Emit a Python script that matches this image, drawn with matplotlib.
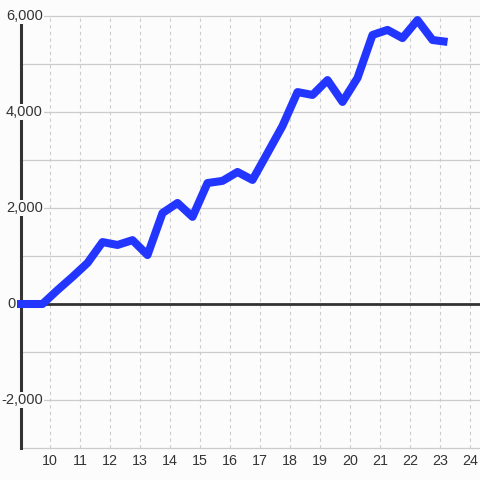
import matplotlib
matplotlib.use("Agg")
import matplotlib.pyplot as plt
import matplotlib.transforms as mtransforms

# ---- data ----
x_values = [8.9, 9.75, 10.25, 10.75, 11.25, 11.75, 12.25, 12.75, 13.25, 13.75,
            14.25, 14.75, 15.25, 15.75, 16.25, 16.75, 17.25, 17.75, 18.25,
            18.75, 19.25, 19.75, 20.25, 20.75, 21.25, 21.75, 22.25, 22.75, 23.25]
y_values = [0, 0, 290, 565, 855, 1290, 1230, 1330, 1020, 1895,
            2105, 1815, 2520, 2565, 2750, 2585, 3145, 3710, 4415,
            4355, 4665, 4210, 4710, 5605, 5710, 5540, 5915, 5500, 5460]
x_ticks = [10, 11, 12, 13, 14, 15, 16, 17, 18, 19, 20, 21, 22, 23, 24]
x_tick_labels = [str(t) for t in x_ticks]
y_grid = [-3000, -2000, -1000, 0, 1000, 2000, 3000, 4000, 5000, 6000]
y_label_values = [6000, 4000, 2000, 0, -2000]
y_label_texts = ["6,000", "4,000", "2,000", "0", "-2,000"]

BG = "#fcfcfc"
BLUE = "#2236ff"
DARK = "#333333"
GRID = "#cccccc"
FONT = "Liberation Sans"

W = H = 480
fig = plt.figure(figsize=(4.8, 4.8), dpi=100, facecolor=BG)
ax = fig.add_axes([20 / W, (H - 448) / H, 460 / W, 432 / H])
ax.set_facecolor(BG)
ax.set_xlim(9.0, 24.333)
ax.set_ylim(-3000, 6000)
for s in ax.spines.values():
    s.set_visible(False)
ax.set_xticks([])
ax.set_yticks([])

# horizontal grid
for v in y_grid:
    ax.axhline(v, color=GRID, lw=0.9, zorder=1, clip_on=False)
# vertical dotted grid
for t in x_ticks:
    ax.axvline(t, color=GRID, lw=0.8, dashes=(3, 3), zorder=1)

# zero line
ax.axhline(0, color=DARK, lw=2.0, zorder=2)
# left axis line
ax.axvline(9.0167, ymin=0, ymax=(448 - 24) / 432, color=DARK, lw=2.2,
           zorder=2, clip_on=False)

# data line
ax.plot(x_values, y_values, color=BLUE, lw=5.8, solid_capstyle="butt",
        solid_joinstyle="round", zorder=3, clip_on=False)

# y labels (inside the plot, with background)
px = mtransforms.ScaledTranslation(1 / 100, 0, fig.dpi_scale_trans)
for v, txt in zip(y_label_values, y_label_texts):
    xr = 43 if txt != "0" else 16
    tr = mtransforms.blended_transform_factory(fig.transFigure, ax.transData)
    ax.text(xr / W, v, txt, transform=tr, ha="right", va="center",
            fontsize=10.5, family=FONT, color=DARK, zorder=5,
            bbox=dict(facecolor=BG, edgecolor="none", pad=1.0), clip_on=False)

# x labels
trx = mtransforms.blended_transform_factory(ax.transData, fig.transFigure)
for t, lab in zip(x_ticks, x_tick_labels):
    ax.text(t, (H - 461) / H, lab, transform=trx, ha="center", va="center",
            fontsize=10.3, family=FONT, color=DARK, zorder=5, clip_on=False)

fig.savefig("out.png", dpi=100, facecolor=BG)
